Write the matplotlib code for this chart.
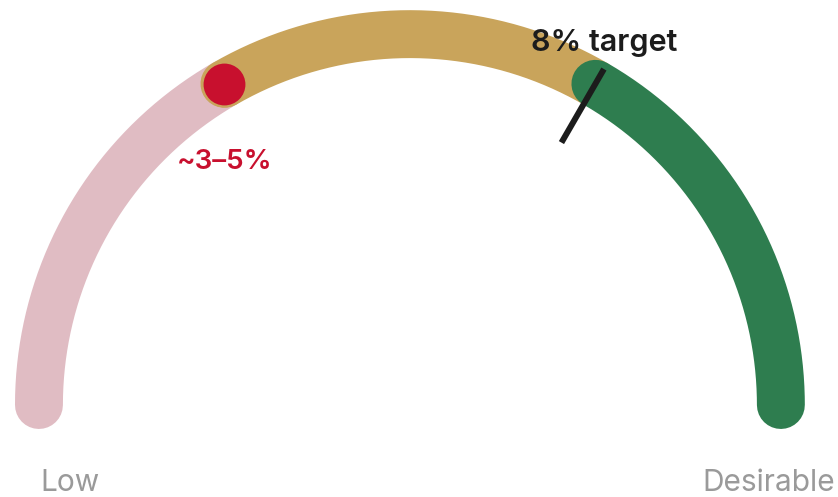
import matplotlib.pyplot as plt
import numpy as np

# gauge scale (percent), segments and markers
scale_min, scale_max = 0, 12
seg_bounds = [(0, 4), (4, 8), (8, 12)]
seg_colors = ['#e0bcc3', '#c9a45b', '#2e7d4f']
current_val = 4          # midpoint of ~3-5%
current_label = '~3–5%'
target_val = 8
target_label = '8% target'
end_labels = ['Low', 'Desirable']

plt.rcParams['font.family'] = ['Inter', 'DejaVu Sans']


def ang(v):
    # value -> angle in radians (180deg at min, 0deg at max)
    return np.pi * (1 - (v - scale_min) / (scale_max - scale_min))


fig = plt.figure(figsize=(8.38, 4.97), dpi=100)
ax = fig.add_axes([0, 0, 1, 1])
ax.set_xlim(-1.105, 1.154)
ax.set_ylim(-0.248, 1.092)
ax.axis('off')

lw = 34.5
for (a, b), c in zip(seg_bounds, seg_colors):
    t = np.linspace(ang(a), ang(b), 200)
    ax.plot(np.cos(t), np.sin(t), color=c, lw=lw, solid_capstyle='round', zorder=2)

# target tick
ta = ang(target_val)
r = np.array([0.817, 1.046])
ax.plot(r * np.cos(ta), r * np.sin(ta), color='#1c1c1c', lw=4.3,
        solid_capstyle='butt', zorder=4)
ax.text(1.05 * np.cos(ta), 0.975, target_label, ha='center', va='center',
        fontsize=22, color='#1c1c1c', fontweight='semibold', zorder=5)

# current marker
ca = ang(current_val)
ax.scatter([np.cos(ca)], [np.sin(ca)], s=1000, color='#c8102e',
           edgecolors='#c9a45b', linewidths=1.5, zorder=5)
ax.text(np.cos(ca) + 0.001, np.sin(ca) - 0.211, current_label, ha='center', va='center',
        fontsize=20, color='#c8102e', fontweight='semibold', zorder=5)

ax.text(-0.997, -0.21, end_labels[0], ha='left', va='center', fontsize=21.5,
        color='#9a9a9a')
ax.text(1.146, -0.21, end_labels[1], ha='right', va='center', fontsize=21.5,
        color='#9a9a9a')

fig.savefig('out.png', dpi=100)
